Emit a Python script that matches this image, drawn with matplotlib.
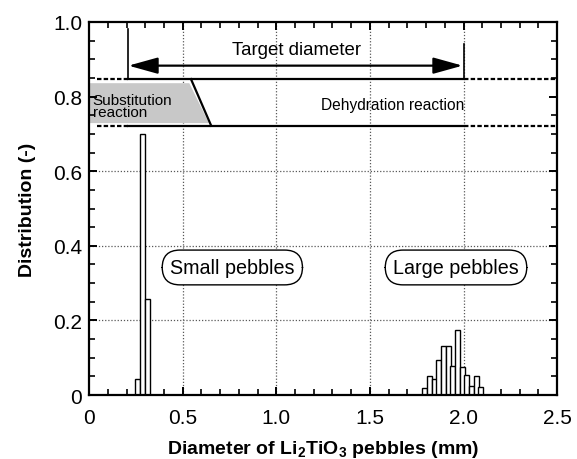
import numpy as np
import matplotlib
matplotlib.use('Agg')
import matplotlib.pyplot as plt
from matplotlib.patches import Polygon

plt.rcParams['font.family'] = ['Liberation Sans', 'DejaVu Sans']
plt.rcParams['mathtext.fontset'] = 'custom'
plt.rcParams['mathtext.rm'] = 'Liberation Sans'
plt.rcParams['mathtext.bf'] = 'Liberation Sans:bold'

# histogram bins (left edges, mm) and distribution values
small_x = [0.245, 0.271, 0.298]
small_h = [0.043, 0.700, 0.258]
large_x = [1.780, 1.805, 1.830, 1.855, 1.880, 1.905, 1.930,
           1.955, 1.980, 2.005, 2.030, 2.055, 2.080]
large_h = [0.018, 0.052, 0.042, 0.095, 0.132, 0.132, 0.078,
           0.175, 0.076, 0.055, 0.024, 0.052, 0.021]
bin_w = 0.026

xticks = [0, 0.5, 1.0, 1.5, 2.0, 2.5]
xticklabels = ['0', '0.5', '1.0', '1.5', '2.0', '2.5']
yticks = [0, 0.2, 0.4, 0.6, 0.8, 1.0]
yticklabels = ['0', '0.2', '0.4', '0.6', '0.8', '1.0']

fig = plt.figure(figsize=(5.77, 4.60), dpi=100)
ax = fig.add_axes([0.1545, 0.139, 0.811, 0.811])

# dotted grid
for gx in [0.5, 1.0, 1.5, 2.0]:
    ax.axvline(gx, color='0.35', ls=(0, (1, 1.5)), lw=0.9, zorder=0)
for gy in [0.2, 0.4, 0.6]:
    ax.axhline(gy, color='0.35', ls=(0, (1, 1.5)), lw=0.9, zorder=0)

ax.bar(small_x, small_h, width=bin_w, align='edge', color='white',
       edgecolor='black', lw=1.0, zorder=2)
ax.bar(large_x, large_h, width=bin_w, align='edge', color='white',
       edgecolor='black', lw=1.0, zorder=2)

# reaction band
y_top, y_bot = 0.847, 0.722
gray = Polygon([[0, 0.836], [0.535, 0.836], [0.64, 0.729], [0, 0.729]],
               closed=True, facecolor='#c8c8c8', edgecolor='none', zorder=1)
ax.add_patch(gray)
ax.plot([0.544, 0.652], [y_top, y_bot], color='black', lw=1.6, zorder=3)
ax.plot([0.205, 2.0], [y_top, y_top], color='black', lw=1.6, zorder=3)
ax.plot([0.205, 2.0], [y_bot, y_bot], color='black', lw=1.6, zorder=3)
for xs in ([0.04, 0.205], [2.0, 2.5]):
    ax.plot(xs, [y_top, y_top], color='black', lw=1.6, ls=(0, (2, 1)), zorder=3)
    ax.plot(xs, [y_bot, y_bot], color='black', lw=1.6, ls=(0, (2, 1)), zorder=3)
ax.text(0.018, 0.775, 'Substitution\nreaction', fontsize=11,
        linespacing=0.85, va='center', ha='left', zorder=4)
ax.text(1.62, 0.780, 'Dehydration reaction', fontsize=11.2,
        va='center', ha='center', zorder=4)

# target diameter
ax.plot([0.205, 0.205], [y_top, 0.982], color='black', lw=1.2)
ax.plot([2.0, 2.0], [y_top, 0.942], color='black', lw=1.2)
ax.annotate('', xy=(0.21, 0.883), xytext=(1.995, 0.883),
            arrowprops=dict(arrowstyle='<|-|>,head_length=1.8,head_width=0.5',
                            color='black', lw=1.6, shrinkA=0, shrinkB=0))
ax.text(1.11, 0.925, 'Target diameter', fontsize=13.4, ha='center', va='center')

box = dict(boxstyle='round,pad=0.4,rounding_size=0.9', facecolor='white',
           edgecolor='black', lw=1.0)
ax.text(0.765, 0.342, 'Small pebbles', fontsize=14.2, ha='center', va='center',
        bbox=box, zorder=4)
ax.text(1.96, 0.342, 'Large pebbles', fontsize=14.2, ha='center', va='center',
        bbox=box, zorder=4)

ax.set_xlim(0, 2.5)
ax.set_ylim(0, 1.0)
ax.set_xticks(xticks)
ax.set_xticklabels(xticklabels)
ax.set_yticks(yticks)
ax.set_yticklabels(yticklabels)
ax.set_xticks(np.arange(0, 2.51, 0.1), minor=True)
ax.set_yticks(np.arange(0, 1.01, 0.05), minor=True)
ax.tick_params(which='both', direction='in', top=True, right=True, labelsize=15)
ax.tick_params(which='major', length=6, width=1.4)
ax.tick_params(axis='x', which='major', pad=9)
ax.tick_params(axis='y', which='major', pad=5)
ax.tick_params(which='minor', length=4, width=1.2)
for s in ax.spines.values():
    s.set_linewidth(1.6)

ax.set_xlabel(r'Diameter of Li$_\mathbf{2}$TiO$_\mathbf{3}$ pebbles (mm)',
              fontsize=14, fontweight='bold', labelpad=8)
ax.set_ylabel('Distribution (-)', fontsize=14, fontweight='bold', labelpad=12)

fig.savefig('out.png', dpi=100)
